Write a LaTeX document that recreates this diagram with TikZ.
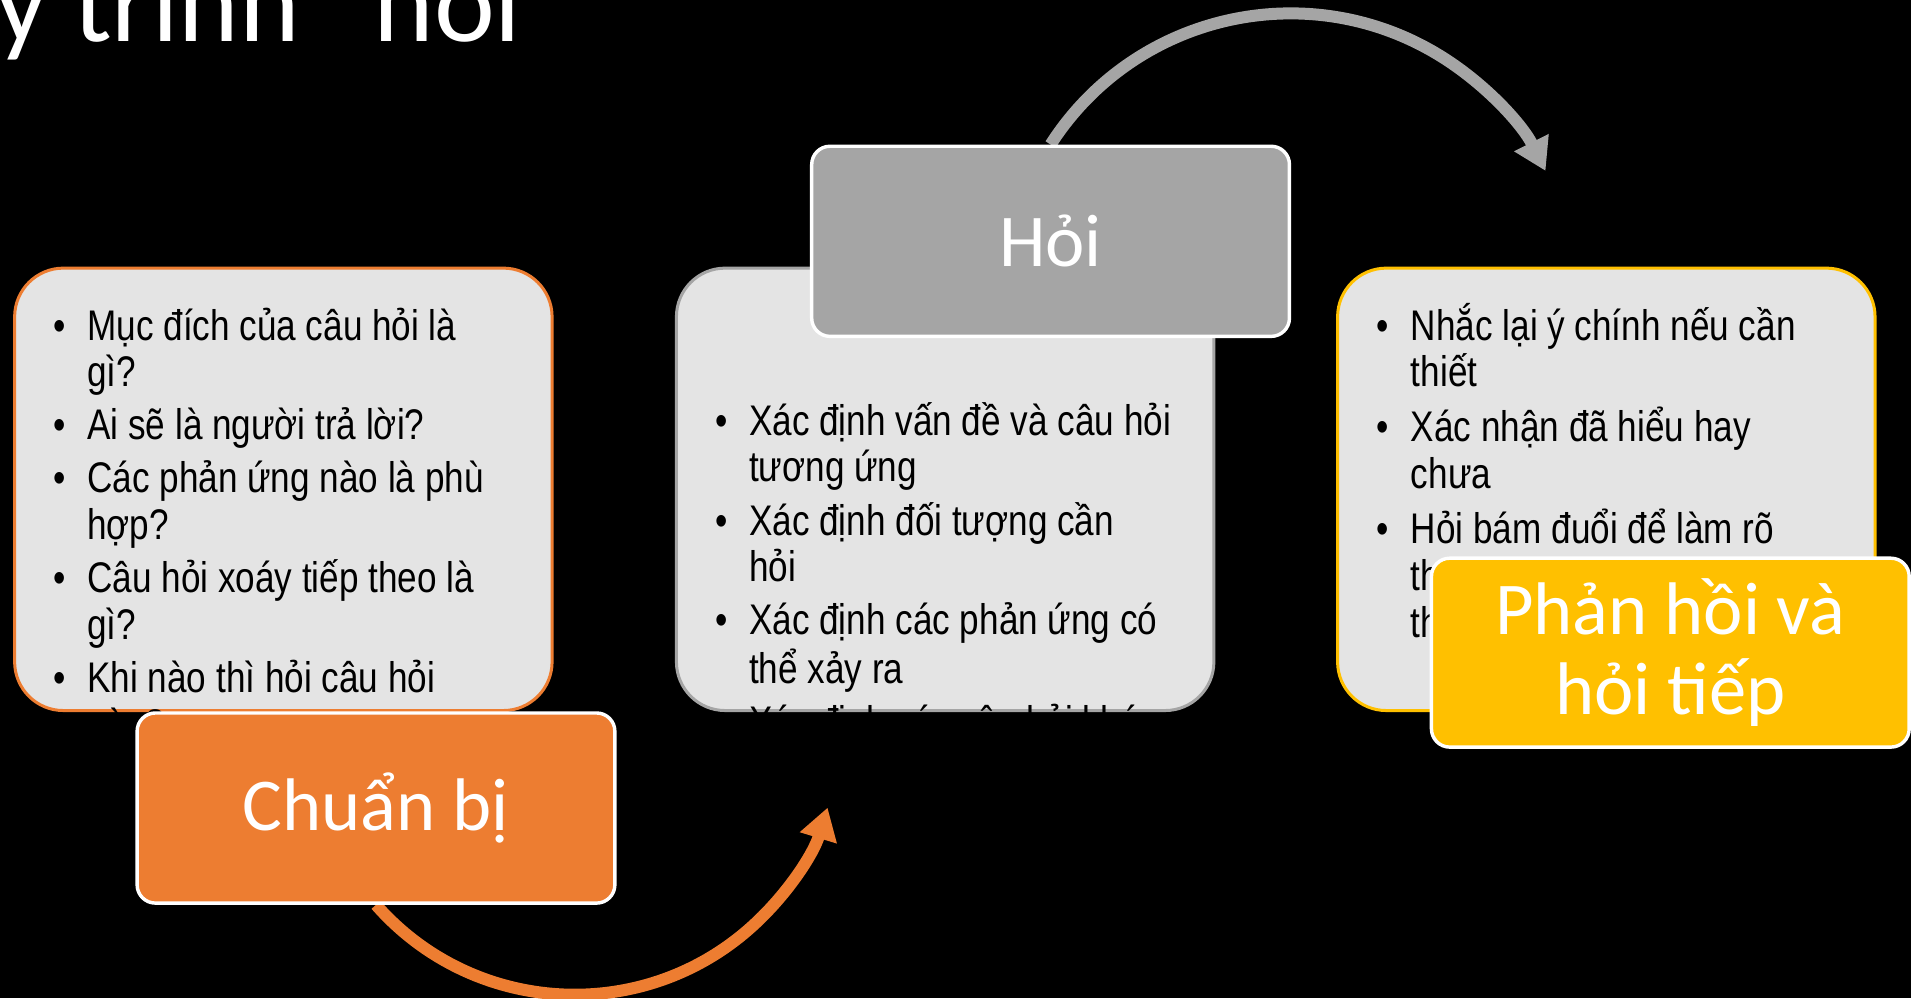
\documentclass[tikz,border=0pt]{standalone}
\usepackage{fontspec}
\setmainfont{Carlito}
\newfontfamily\narrowfont[FakeStretch=0.82]{Liberation Sans}
\usetikzlibrary{arrows.meta,backgrounds}

\definecolor{prepcolor}{HTML}{ED7D31}
\definecolor{askcolor}{HTML}{A5A5A5}
\definecolor{replycolor}{HTML}{FFC000}
\definecolor{listfill}{HTML}{E4E4E4}

\newcommand{\listfont}{\narrowfont\fontsize{10}{10.9}\selectfont}
\newcommand{\stagefont}{\fontsize{17.4}{18.6}\selectfont}
\newcommand{\itemgap}{1.5pt}

\tikzset{
	listbox/.style={draw=#1, line width=0.7pt, fill=listfill, rounded corners=0.4cm, minimum width=4.41cm, minimum height=3.63cm},
	stagebox/.style={draw=white, fill=#1, line width=0.8pt, rounded corners=0.15cm, minimum width=3.92cm, minimum height=1.56cm, text=white, font=\stagefont, align=center},
	bullets/.style={anchor=base west, inner sep=0pt, font=\listfont},
	cyclearrow/.style={draw=#1, line width=2.8pt, -{Triangle[length=0.26cm,width=0.3cm]}}
}

\begin{document}
\begin{tikzpicture}
	\begin{pgfonlayer}{background}
	\fill[black] (0,0) rectangle (15.68,8.19);
	\end{pgfonlayer}
	\useasboundingbox (0,0) rectangle (15.68,8.19);
	\clip (0,0) rectangle (15.68,8.19);

	% title, cut by the top edge
	\node[anchor=base west, inner sep=0pt, text=white, font=\fontsize{26.9}{30}\selectfont] (title) at (-1.18,7.85) {Quy trình “hỏi”};

	% list boxes
	\node[listbox=prepcolor] (preplist) at (2.325,4.175) {};
	\node[listbox=askcolor] (asklist) at (7.755,4.175) {};
	\node[listbox=replycolor] (replylist) at (13.18,4.175) {};

	\node[bullets] (prepitems) at (0.43,5.40) {\begin{tabular}[t]{@{}p{0.28cm}@{}l@{}}
		\textbullet & Mục đích của câu hỏi là\\
		& gì?\\[\itemgap]
		\textbullet & Ai sẽ là người trả lời?\\[\itemgap]
		\textbullet & Các phản ứng nào là phù\\
		& hợp?\\[\itemgap]
		\textbullet & Câu hỏi xoáy tiếp theo là\\
		& gì?\\[\itemgap]
		\textbullet & Khi nào thì hỏi câu hỏi\\
		& nào?
	\end{tabular}};
	\node[bullets] (askitems) at (5.86,4.62) {\begin{tabular}[t]{@{}p{0.28cm}@{}l@{}}
		\textbullet & Xác định vấn đề và câu hỏi\\
		& tương ứng\\[\itemgap]
		\textbullet & Xác định đối tượng cần\\
		& hỏi\\[\itemgap]
		\textbullet & Xác định các phản ứng có\\
		& thể xảy ra\\[\itemgap]
		\textbullet & Xác định các câu hỏi khác
	\end{tabular}};
	\node[bullets] (replyitems) at (11.29,5.40) {\begin{tabular}[t]{@{}p{0.28cm}@{}l@{}}
		\textbullet & Nhắc lại ý chính nếu cần\\
		& thiết\\[\itemgap]
		\textbullet & Xác nhận đã hiểu hay\\
		& chưa\\[\itemgap]
		\textbullet & Hỏi bám đuổi để làm rõ\\
		& th\\
		& th
	\end{tabular}};

	% stage boxes
	\node[stagebox=prepcolor] (prep) at (3.085,1.56) {Chuẩn bị};
	\node[stagebox=askcolor] (ask) at (8.62,6.21) {Hỏi};
	\node[stagebox=replycolor, minimum height=1.55cm] (reply) at (13.705,2.835) {Phản hồi và\\hỏi tiếp};

	% curved arrows under the stage boxes
	\begin{pgfonlayer}{background}
	\draw[cyclearrow=prepcolor] (prep.south) arc[start angle=-138.7, end angle=-17, radius=2.17];
	\draw[cyclearrow=askcolor] (ask.north) arc[start angle=147.3, end angle=26.6, radius=2.34];
	\end{pgfonlayer}
\end{tikzpicture}
\end{document}
